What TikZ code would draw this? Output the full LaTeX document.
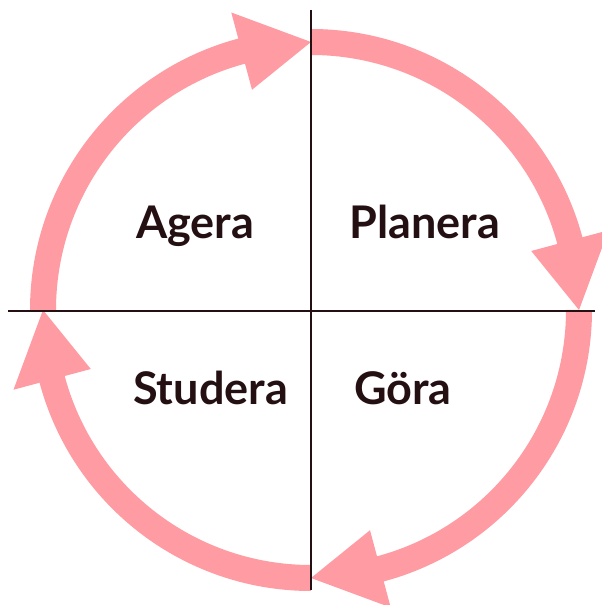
\documentclass[tikz,border=0pt]{standalone}
\usepackage{fontspec}
\setmainfont{Lato}
\definecolor{ringpink}{RGB}{255,155,162}
\definecolor{inkdark}{RGB}{36,16,18}
\begin{document}
\begin{tikzpicture}[x=1pt,y=1pt,
  ringline/.style={line width=26pt, ringpink},
  headfill/.style={fill=ringpink},
  axisline/.style={line width=2.6pt, inkdark},
  label/.style={anchor=base west, inner sep=0pt, text=inkdark, font=\fontsize{45}{52}\selectfont\bfseries}]
\useasboundingbox (0,0) rectangle (602,605);
\coordinate (c) at (311,295);
\def\R{268}
\def\D{15}
\def\H{40}
% four clockwise arcs: start angle -> end angle
\foreach \a/\b in {180/90, 90/0, 0/-90, -90/-180}{
  \draw[ringline, shift={(c)}] (\a:\R) arc[start angle=\a, end angle=\b+\D-2, radius=\R];
  \fill[headfill, shift={(c)}] (\b:\R) -- (\b+\D:\R+\H) -- (\b+\D:\R-\H) -- cycle;
}
\coordinate (vtop) at (311,595);
\coordinate (vbot) at (311,15);
\coordinate (hl) at (8,294);
\coordinate (hr) at (595,294);
\draw[axisline] (vtop) -- (vbot);
\draw[axisline] (hl) -- (hr);
\node[label] (agera) at (136,366) {Agera};
\node[label] (planera) at (349,366) {Planera};
\node[label] (studera) at (133,200) {Studera};
\node[label] (gora) at (354,200) {Göra};
\end{tikzpicture}
\end{document}
